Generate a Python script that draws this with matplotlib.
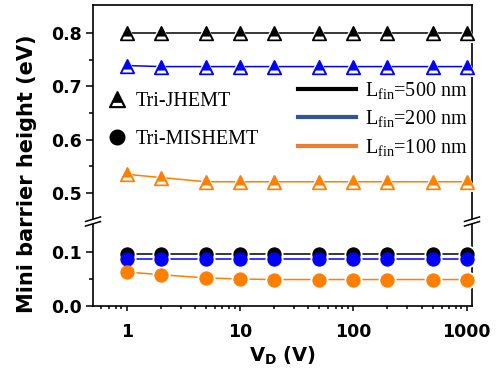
import matplotlib
matplotlib.use("Agg")
import matplotlib.pyplot as plt
from matplotlib.lines import Line2D
from matplotlib.patches import Polygon
from matplotlib.path import Path
from matplotlib.markers import MarkerStyle
from matplotlib.font_manager import FontProperties
from matplotlib.ticker import FixedLocator, LogLocator, NullFormatter

plt.rcParams['mathtext.fontset'] = 'custom'
plt.rcParams['mathtext.rm'] = 'Liberation Serif'
plt.rcParams['mathtext.bf'] = 'DejaVu Sans:bold'

# ---------------- data ----------------
vd = [1, 2, 5, 10, 20, 50, 100, 200, 500, 1000]
lfin_labels = ["500 nm", "200 nm", "100 nm"]
# Tri-JHEMT (top panel)
jhemt_500 = [0.800, 0.800, 0.800, 0.800, 0.800, 0.800, 0.800, 0.800, 0.800, 0.800]
jhemt_200 = [0.739, 0.737, 0.737, 0.737, 0.737, 0.737, 0.737, 0.737, 0.737, 0.737]
jhemt_100 = [0.535, 0.529, 0.521, 0.521, 0.521, 0.521, 0.521, 0.521, 0.521, 0.521]
# Tri-MISHEMT (bottom panel)
mis_500 = [0.096, 0.096, 0.096, 0.096, 0.096, 0.096, 0.096, 0.096, 0.096, 0.096]
mis_200 = [0.087, 0.087, 0.087, 0.087, 0.087, 0.087, 0.087, 0.087, 0.087, 0.087]
mis_100 = [0.063, 0.058, 0.052, 0.050, 0.049, 0.049, 0.049, 0.049, 0.049, 0.049]

data_colors = ["#000000", "#0000FF", "#FF8000"]
legend_colors = ["#000000", "#2F5597", "#ED7D31"]

W, H = 499, 374
fig = plt.figure(figsize=(W / 100, H / 100), dpi=100)

def fx(px):
    return px / W

def fy(py):
    return 1 - py / H

left, right, top, split, bottom = 93, 472, 5, 221.5, 306
ax_t = fig.add_axes([fx(left), fy(split), fx(right - left), (split - top) / H])
ax_b = fig.add_axes([fx(left), fy(bottom), fx(right - left), (bottom - split) / H])

tickfont = FontProperties(family='DejaVu Sans', weight='bold', size=12.5)

for ax in (ax_t, ax_b):
    ax.set_xscale('log')
    ax.set_xlim(0.505, 1114)
    for s in ax.spines.values():
        s.set_linewidth(1.2)
    ax.tick_params(axis='y', which='major', direction='out', length=5, width=1.1, pad=3)
    ax.tick_params(axis='y', which='minor', direction='out', length=3, width=1.1)
    ax.tick_params(axis='x', which='major', direction='out', length=3.6, width=1.1, pad=8.5)
    ax.tick_params(axis='x', which='minor', direction='out', length=2.2, width=1.1)
    ax.xaxis.set_major_locator(LogLocator(base=10, numticks=10))
    ax.xaxis.set_minor_locator(LogLocator(base=10, subs=range(2, 10), numticks=20))
    ax.xaxis.set_minor_formatter(NullFormatter())

ax_t.spines['bottom'].set_visible(False)
ax_b.spines['top'].set_visible(False)
ax_t.tick_params(axis='x', which='both', bottom=False, labelbottom=False)

ax_t.set_ylim(0.4465, 0.8525)
ax_b.set_ylim(0.0, 0.1565)
ax_t.yaxis.set_major_locator(FixedLocator([0.5, 0.6, 0.7, 0.8]))
ax_t.yaxis.set_minor_locator(FixedLocator([0.55, 0.65, 0.75]))
ax_b.yaxis.set_major_locator(FixedLocator([0.0, 0.1]))
ax_b.yaxis.set_minor_locator(FixedLocator([0.05]))
ax_t.set_yticklabels(["0.5", "0.6", "0.7", "0.8"])
ax_b.set_yticklabels(["0.0", "0.1"])
ax_b.set_xticks([1, 10, 100, 1000])
ax_b.set_xticklabels(["1", "10", "100", "1000"])

for ax in (ax_t, ax_b):
    for lab in ax.get_xticklabels() + ax.get_yticklabels():
        lab.set_fontproperties(tickfont)

tri_ms, circ_ms = 10.5, 9.5
lw = 1.1

# white lower band of the half-filled triangle (same scale as the '^' marker)
band = Path([(-1, -1), (-0.70, -0.82), (0.70, -0.82), (0.50, -0.42), (-0.50, -0.42), (-0.70, -0.82)],
            [Path.MOVETO, Path.MOVETO, Path.LINETO, Path.LINETO, Path.LINETO, Path.CLOSEPOLY])
band_marker = MarkerStyle(band)

def draw_series(ax, ys, color, marker, ms):
    ax.plot(vd, ys, '-', color=color, lw=lw, zorder=2, clip_on=False)
    ax.plot(vd, ys, ls='none', marker=marker, ms=ms + 3.5, mfc='white', mec='white',
            mew=0, zorder=3, clip_on=False)

def draw_markers(ax, ys, color, marker, ms, half):
    ax.plot(vd, ys, ls='none', marker=marker, ms=ms, mfc=color, mec=color,
            mew=1.0 if half else 0.8, zorder=4, clip_on=False)
    if half:
        ax.plot(vd, ys, ls='none', marker=band_marker, ms=ms, mfc='white', mec='none',
                mew=0, zorder=5, clip_on=False)

top_series = [jhemt_500, jhemt_200, jhemt_100]
bot_series = [mis_500, mis_200, mis_100]
for ys, c in zip(top_series, data_colors):
    draw_series(ax_t, ys, c, '^', tri_ms)
for ys, c in zip(top_series, data_colors):
    draw_markers(ax_t, ys, c, '^', tri_ms, True)
for ys, c in zip(bot_series, data_colors):
    draw_series(ax_b, ys, c, 'o', circ_ms)
for ys, c in zip(bot_series, data_colors):
    draw_markers(ax_b, ys, c, 'o', circ_ms, False)

# axis break marks
def break_mark(xc, yc):
    half_w, slope, gap = 7.5, 0.3, 4.6
    y1a, y1b = yc - gap / 2 + half_w * slope, yc - gap / 2 - half_w * slope
    y2a, y2b = yc + gap / 2 + half_w * slope, yc + gap / 2 - half_w * slope
    poly = Polygon([(fx(xc - half_w), fy(y1a)), (fx(xc + half_w), fy(y1b)),
                    (fx(xc + half_w), fy(y2b)), (fx(xc - half_w), fy(y2a))],
                   closed=True, transform=fig.transFigure, facecolor='white',
                   edgecolor='none', zorder=10)
    fig.add_artist(poly)
    for ya, yb in ((y1a, y1b), (y2a, y2b)):
        fig.add_artist(Line2D([fx(xc - half_w), fx(xc + half_w)], [fy(ya), fy(yb)],
                              transform=fig.transFigure, color='black', lw=1.1, zorder=11))

break_mark(left, split)
break_mark(right, split)

# axis labels
fig.text(fx(27), fy(174), "Mini barrier height (eV)", rotation=90, ha='center', va='center',
         fontproperties=FontProperties(family='DejaVu Sans', weight='bold', size=15))
fig.text(fx(282.5), fy(356), r"$\mathbf{V_D}$ (V)", ha='center', va='center',
         fontproperties=FontProperties(family='DejaVu Sans', weight='bold', size=14))

# legends
legfont = FontProperties(family='Liberation Serif', size=14.5)
h_tri_full = Line2D([], [], ls='none', marker='^', ms=tri_ms + 1, mfc='black', mec='black', mew=1.0)
h_tri_band = Line2D([], [], ls='none', marker=band_marker, ms=tri_ms + 1, mfc='white', mec='none', mew=0)
h_circ = Line2D([], [], ls='none', marker='o', ms=circ_ms + 1, mfc='black', mec='black')
leg1 = ax_t.legend([(h_tri_full, h_tri_band), h_circ], ["Tri-JHEMT", "Tri-MISHEMT"], loc='upper left',
                   bbox_to_anchor=(fx(108), fy(92)), bbox_transform=fig.transFigure,
                   frameon=False, borderpad=0, borderaxespad=0, handlelength=0.9,
                   handletextpad=0.45, labelspacing=0.92, prop=legfont)
ax_t.add_artist(leg1)

line_handles = [Line2D([], [], color=c, lw=3) for c in legend_colors]
line_labels = [r"$\mathrm{L_{fin}}$=" + s for s in lfin_labels]
leg2 = ax_t.legend(line_handles, line_labels, loc='upper left',
                   bbox_to_anchor=(fx(298), fy(80)), bbox_transform=fig.transFigure,
                   frameon=False, borderpad=0, borderaxespad=0, handlelength=2.88,
                   handletextpad=0.45, labelspacing=0.37, prop=legfont)

fig.savefig("out.png", dpi=100)
